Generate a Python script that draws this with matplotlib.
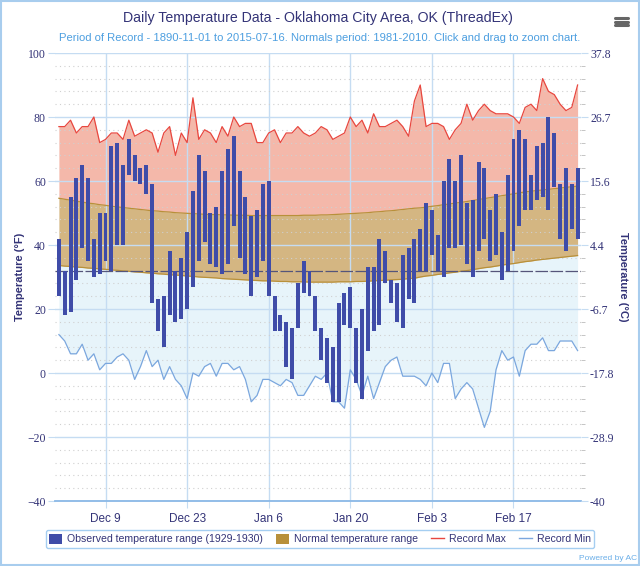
import numpy as np
import pandas as pd
import matplotlib
matplotlib.use("Agg")
from matplotlib import pyplot as plt
from matplotlib.patches import Patch, Rectangle
from matplotlib.lines import Line2D

# winter 1929-1930, one value per day, Dec 1 .. Feb 28
dates = pd.date_range("1929-12-01", "1930-02-28", freq="D")

obs_high = [42, 32, 55, 61, 65, 61, 42, 50, 50, 71, 72, 65, 73, 68, 64, 65, 59, 23, 24, 38,
            32, 36, 44, 57, 68, 63, 50, 52, 63, 70, 74, 63, 55, 49, 51, 59, 60, 24, 18, 16,
            14, 28, 35, 32, 24, 14, 11, 8, 22, 25, 27, 14, 20, 33, 33, 42, 38, 29, 28, 37,
            39, 42, 45, 53, 51, 43, 60, 67, 60, 68, 53, 54, 66, 64, 51, 56, 44, 62, 73, 76,
            73, 62, 71, 72, 80, 75, 59, 64, 59, 64]
obs_low = [24, 18, 19, 29, 39, 35, 30, 31, 35, 32, 40, 40, 62, 60, 59, 56, 22, 13, 8, 18,
           16, 17, 20, 27, 35, 41, 34, 33, 31, 34, 46, 36, 31, 24, 30, 35, 24, 13, 13, 2,
           -2, 14, 25, 24, 13, 4, -3, -9, -9, 15, 14, -3, -8, 7, 13, 15, 28, 22, 16, 14,
           23, 22, 32, 32, 37, 32, 30, 39, 39, 40, 34, 30, 38, 42, 35, 37, 29, 32, 38, 46,
           51, 51, 54, 55, 51, 58, 42, 38, 45, 42]

record_max = [77, 77, 79, 75, 77, 77, 80, 72, 73, 75, 75, 73, 79, 74, 75, 76, 75, 69, 75, 77,
              68, 75, 72, 86, 73, 76, 75, 72, 77, 74, 80, 77, 78, 78, 72, 72, 75, 76, 72, 75,
              75, 77, 75, 74, 75, 77, 76, 73, 74, 75, 80, 77, 79, 75, 81, 77, 77, 78, 79, 77,
              74, 85, 90, 77, 78, 78, 77, 73, 76, 78, 84, 79, 82, 84, 82, 81, 81, 81, 80, 78,
              83, 84, 82, 92, 88, 87, 84, 82, 83, 90]
record_min = [12, 10, 6, 6, 9, 4, 6, 1, 3, 3, 5, 6, 4, -2, 2, 7, 2, 4, -2, 2,
              -2, -4, -8, 0, -1, 2, 3, -1, 3, 3, 1, 2, -2, -9, -7, -2, -2, -3, -4, -2,
              -3, -7, -7, -4, -1, -2, 0, -9, -9, -11, 1, -2, -7, -1, -8, -3, 2, 4, 5, -1,
              -1, -1, -2, -4, 0, -3, 3, 3, -8, -5, -3, -5, -11, -17, -12, 1, 7, 4, 5, -1,
              7, 9, 9, 11, 7, 7, 10, 10, 10, 7]

normal_high = [54.6, 54.3, 54.0, 53.7, 53.4, 53.1, 52.9, 52.6, 52.4, 52.1,
               51.9, 51.7, 51.5, 51.3, 51.1, 50.9, 50.7, 50.6, 50.4, 50.3,
               50.1, 50.0, 49.9, 49.8, 49.7, 49.6, 49.5, 49.5, 49.4, 49.4, 49.3,
               49.3, 49.3, 49.2, 49.2, 49.2, 49.2, 49.2, 49.2, 49.2, 49.2,
               49.2, 49.3, 49.3, 49.3, 49.4, 49.4, 49.5, 49.6, 49.7, 49.8,
               49.9, 50.0, 50.1, 50.3, 50.4, 50.6, 50.7, 50.9, 51.1, 51.3, 51.5,
               51.6, 51.8, 52.1, 52.3, 52.6, 52.8, 53.1, 53.3, 53.6, 53.9,
               54.2, 54.5, 54.8, 55.1, 55.4, 55.7, 56.0, 56.3, 56.6, 56.8,
               57.0, 57.2, 57.4, 57.6, 57.8, 58.0, 58.2, 58.4]
normal_low = [33.6, 33.4, 33.3, 33.1, 33.0, 32.8, 32.7, 32.5, 32.4, 32.2,
              32.1, 31.9, 31.8, 31.6, 31.5, 31.3, 31.2, 31.0, 30.9, 30.7,
              30.6, 30.5, 30.3, 30.2, 30.0, 29.9, 29.8, 29.7, 29.5, 29.4, 29.3,
              29.2, 29.1, 29.0, 28.9, 28.8, 28.8, 28.7, 28.6, 28.6, 28.5,
              28.5, 28.5, 28.4, 28.4, 28.4, 28.4, 28.4, 28.5, 28.5, 28.5,
              28.6, 28.6, 28.7, 28.8, 28.9, 29.0, 29.1, 29.2, 29.3, 29.5, 29.6,
              30.0, 30.3, 30.5, 30.8, 31.0, 31.3, 31.5, 31.8, 32.0, 32.3,
              32.6, 32.9, 33.1, 33.4, 33.7, 34.0, 34.2, 34.5, 34.8, 35.0,
              35.3, 35.5, 35.7, 35.9, 36.1, 36.3, 36.5, 36.7]

x_ticks = pd.to_datetime(["1929-12-09", "1929-12-23", "1930-01-06",
                          "1930-01-20", "1930-02-03", "1930-02-17"])
x_labels = ["Dec 9", "Dec 23", "Jan 6", "Jan 20", "Feb 3", "Feb 17"]
f_ticks = [-40, -20, 0, 20, 40, 60, 80, 100]
c_labels = ["-40", "-28.9", "-17.8", "-6.7", "4.4", "15.6", "26.7", "37.8"]

navy = "#333377"
light_blue = "#c5dcf2"
sans = "Liberation Sans"

fig = plt.figure(figsize=(6.4, 5.66), dpi=100)
ax = fig.add_axes([55 / 640, 65 / 566, 526 / 640, 448 / 566])

# shaded bands
ax.fill_between(dates, record_min, normal_low, color="#e7f4fa", lw=0, zorder=0.5)
ax.fill_between(dates, normal_high, record_max, color="#f4b8aa", lw=0, zorder=0.5)
ax.fill_between(dates, normal_low, normal_high, color="#d4b682", lw=0, zorder=0.6)
ax.plot(dates, normal_high, color="#b8903a", lw=0.9, zorder=1.6)
ax.plot(dates, normal_low, color="#b8903a", lw=0.9, zorder=1.6)
ax.plot(dates, record_max, color="#e8473f", lw=0.9, zorder=2)
ax.plot(dates, record_min, color="#7ba7de", lw=0.9, zorder=2)

# freezing line
ax.axhline(32, color="#55557a", lw=0.9, ls=(0, (10, 2)), zorder=1.7)

# observed range bars
hi = np.array(obs_high)
lo = np.array(obs_low)
ax.bar(dates, hi - lo, bottom=lo, width=0.68, color="#3f4ca8", zorder=3)

ax.set_ylim(-40, 100)
ax.set_xlim(dates[0] - pd.Timedelta(hours=16), dates[-1] + pd.Timedelta(hours=14))
ax.set_yticks(f_ticks)
ax.set_yticks(np.arange(-40, 101, 4), minor=True)
ax.set_xticks(x_ticks)
ax.set_xticklabels(x_labels, family=sans)
ax.set_axisbelow("line")
ax.grid(which="major", axis="both", color=light_blue, lw=1)
ax.grid(which="minor", axis="y", color="#d0d0d0", lw=0.8, ls=(0, (1, 3)))

for s in ["left", "right", "top"]:
    ax.spines[s].set_visible(False)
ax.spines["bottom"].set_color("#8ab8e6")
ax.spines["bottom"].set_linewidth(1.3)

ax.tick_params(axis="y", which="major", length=5, pad=1.5, color=light_blue, labelcolor=navy)
ax.tick_params(axis="y", which="minor", length=0)
ax.tick_params(axis="x", length=5, color=light_blue, labelcolor=navy, labelsize=8.5, pad=4)
for t in ax.get_yticklabels():
    t.set_family("Liberation Serif")
    t.set_fontsize(8.5)

ax2 = ax.twinx()
ax2.set_ylim(-40, 100)
ax2.set_yticks(f_ticks)
ax2.set_yticklabels(c_labels)
ax2.set_yticks(np.arange(-40, 101, 4), minor=True)
for s in ["left", "right", "top", "bottom"]:
    ax2.spines[s].set_visible(False)
ax2.tick_params(axis="y", which="major", length=5, pad=1.5, color=light_blue, labelcolor=navy)
ax2.tick_params(axis="y", which="minor", length=3, color="#bbbbbb")
for t in ax2.get_yticklabels():
    t.set_family("Liberation Serif")
    t.set_fontsize(8.5)

fig.text(20 / 640, 1 - 277 / 566, "Temperature (°F)", rotation=90, ha="center", va="center",
         color=navy, fontsize=8, fontweight="bold", family=sans)
fig.text(623 / 640, 1 - 277 / 566, "Temperature (°C)", rotation=270, ha="center",
         va="center", color=navy, fontsize=8, fontweight="bold", family=sans)

fig.text(0.497, 1 - 18 / 566, "Daily Temperature Data - Oklahoma City Area, OK (ThreadEx)",
         ha="center", va="center", fontsize=10.2, color=navy, family=sans)
fig.text(0.5, 1 - 38 / 566,
         "Period of Record - 1890-11-01 to 2015-07-16. Normals period: 1981-2010. "
         "Click and drag to zoom chart.",
         ha="center", va="center", fontsize=8.1, color="#4d9fe0", family=sans)
fig.text(0.995, 1 - 558 / 566, "Powered by AC", ha="right", va="center",
         fontsize=6, color="#6aaee8", family=sans)

handles = [Patch(facecolor="#3f4ca8", edgecolor="none"),
           Patch(facecolor="#b8903a", edgecolor="none"),
           Line2D([], [], color="#e8473f", lw=1),
           Line2D([], [], color="#7ba7de", lw=1)]
names = ["Observed temperature range (1929-1930)", "Normal temperature range",
         "Record Max", "Record Min"]
leg = fig.legend(handles, names, loc="center", bbox_to_anchor=(0.5, 1 - 539 / 566),
                 ncol=4, frameon=True, fancybox=True,
                 prop={"family": sans, "size": 7.6},
                 handlelength=1.2, handleheight=1.2, handletextpad=0.45,
                 columnspacing=1.3, borderpad=0.35)
leg.get_frame().set_edgecolor("#8fc2ee")
leg.get_frame().set_linewidth(1)
for t in leg.get_texts():
    t.set_color(navy)

# menu icon
for yy in [18, 21.5, 25]:
    fig.add_artist(Line2D([615 / 640, 628 / 640], [1 - yy / 566, 1 - yy / 566],
                          color="#666666", lw=2.2, solid_capstyle="round"))

fig.add_artist(Rectangle((0.002, 0.002), 0.996, 0.996, fill=False,
                         edgecolor="#a8cdee", lw=1.5, transform=fig.transFigure))

fig.savefig("out.png", dpi=100)
